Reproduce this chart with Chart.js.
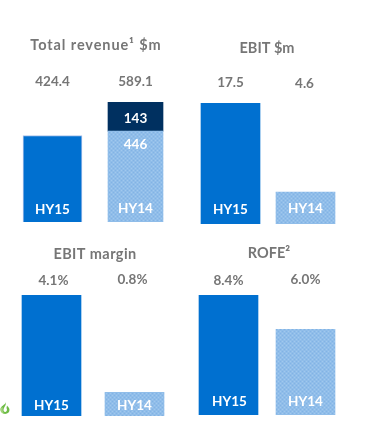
<!DOCTYPE html>
<html>
<head>
<meta charset="utf-8">
<title>Half year results</title>
<script src="https://cdn.jsdelivr.net/npm/chart.js@4"></script>
<style>
  html, body { margin: 0; padding: 0; background: #fff; width: 373px; height: 445px; overflow: hidden; }
  canvas { position: absolute; }
  #flame { position: absolute; left: 0; top: 402px; }
</style>
</head>
<body>
<svg id="flame" width="10" height="12" viewBox="0 0 10 12">
  <path d="M5.5 0 C6 2 2.5 3 1 5.5 C-0.5 8.5 1.5 12 5 12 C8.5 12 10 9.5 9.3 6.8 C8.8 5 7.5 4.5 7 3.5 L6.5 6 C7.5 8 6.8 10 5.2 10 C3.5 10 3 8 4 6 C5 4 6.5 2.5 5.5 0 Z" fill="#6dbb45"/>
  <path d="M1 5.5 C-0.5 8.5 1.5 12 5 12 C3 11 2 8.5 3 5.5 Z" fill="#a5d67c"/>
</svg>
<script>
// values
const categories = ['HY15', 'HY14'];
const revenueHy15 = [424.4, null];
const revenueHy14Base = [null, 446];
const revenueHy14Top = [null, 143];
const revenueTotals = ['424.4', '589.1'];
const ebitValues = [17.5, 4.6];
const ebitLabels = ['17.5', '4.6'];
const marginValues = [4.1, 0.8];
const marginLabels = ['4.1%', '0.8%'];
const rofeValues = [8.4, 6.0];
const rofeLabels = ['8.4%', '6.0%'];

const BLUE = '#0070d0';
const NAVY = '#003060';
const GREY = '#767676';
const FONT = 'Lato, "Noto Sans", sans-serif';

// dotted light blue fill used on the HY14 bars
function makeHatch() {
  const tile = document.createElement('canvas');
  tile.width = 4;
  tile.height = 4;
  const c = tile.getContext('2d');
  c.fillStyle = '#90bde9';
  c.fillRect(0, 0, 4, 4);
  c.fillStyle = '#82b3e5';
  c.fillRect(0, 0, 1, 1);
  c.fillRect(2, 2, 1, 1);
  c.fillStyle = '#a0c8ee';
  c.fillRect(2, 0, 1, 1);
  c.fillRect(0, 2, 1, 1);
  return c.createPattern(tile, 'repeat');
}
const hatch = makeHatch();

// draws titles, value labels and the labels inside the bars
const panelText = {
  id: 'panelText',
  afterDatasetsDraw(chart, args, opts) {
    const ctx = chart.ctx;
    const rect = chart.canvas.getBoundingClientRect();
    const put = (text, x, y, font, color) => {
      ctx.font = font;
      ctx.fillStyle = color;
      ctx.fillText(text, x, y);
    };
    ctx.save();
    ctx.textAlign = 'center';
    ctx.textBaseline = 'middle';
    ctx.letterSpacing = opts.titleSpacing || '0px';
    put(opts.title, opts.titleX - rect.left, opts.titleY - rect.top, 'bold 14.5px ' + FONT, GREY);
    ctx.letterSpacing = '0px';
    const x = chart.scales.x;
    categories.forEach((name, i) => {
      const cx = x.getPixelForValue(i);
      put(opts.values[i], cx + opts.valueDx[i], opts.valueY[i] - rect.top, 'bold 13.5px ' + FONT, GREY);
      put(name, cx + opts.tagDx[i], opts.tagY[i] - rect.top, 'bold 13.5px ' + FONT, '#fff');
    });
    (opts.inner || []).forEach(t => {
      put(t.text, x.getPixelForValue(t.index), t.y - rect.top, 'bold 13.5px ' + FONT, '#fff');
    });
    ctx.restore();
  }
};

function addPanel(box, datasets, maxValue, text) {
  const canvas = document.createElement('canvas');
  canvas.width = box.width;
  canvas.height = box.height;
  canvas.style.left = box.left + 'px';
  canvas.style.top = box.top + 'px';
  document.body.appendChild(canvas);
  return new Chart(canvas.getContext('2d'), {
    type: 'bar',
    data: { labels: categories, datasets: datasets },
    options: {
      responsive: false,
      animation: false,
      layout: { padding: { top: box.padTop, left: 0, right: 0, bottom: 0 } },
      plugins: { legend: { display: false }, tooltip: { enabled: false }, panelText: text },
      scales: {
        x: { display: false, stacked: true },
        y: { display: false, stacked: true, min: 0, max: maxValue }
      }
    },
    plugins: [panelText]
  });
}

function twoBars(values) {
  return [{
    data: values,
    barThickness: 59,
    backgroundColor: [BLUE, hatch]
  }];
}

addPanel({ left: 11, top: 30, width: 166, height: 192, padTop: 72 }, [
  { data: revenueHy15, barThickness: 59, backgroundColor: BLUE, borderColor: '#a9c1ea', borderWidth: 1 },
  { data: revenueHy14Base, barThickness: 55, backgroundColor: hatch },
  { data: revenueHy14Top, barThickness: 55, backgroundColor: NAVY }
], 589, {
  title: 'Total revenue¹ $m', titleX: 96, titleY: 45, titleSpacing: '0.9px',
  values: revenueTotals, valueDx: [0, 0], valueY: [82, 82],
  tagDx: [0, 0], tagY: [210, 209],
  inner: [{ text: '143', index: 1, y: 119 }, { text: '446', index: 1, y: 145 }]
});

addPanel({ left: 193, top: 30, width: 150, height: 194, padTop: 73 }, twoBars(ebitValues), 17.5, {
  title: 'EBIT $m', titleX: 267, titleY: 48,
  values: ebitLabels, valueDx: [0, -1], valueY: [83, 84],
  tagDx: [0, 0], tagY: [210, 209]
});

addPanel({ left: 10, top: 235, width: 166, height: 181, padTop: 60 }, twoBars(marginValues), 4.1, {
  title: 'EBIT margin', titleX: 95, titleY: 254, titleSpacing: '0.4px',
  values: marginLabels, valueDx: [2, -2], valueY: [281, 280],
  tagDx: [0, 0], tagY: [406, 406]
});

addPanel({ left: 190, top: 235, width: 154, height: 180, padTop: 60 }, twoBars(rofeValues), 8.4, {
  title: 'ROFE²', titleX: 269, titleY: 253,
  values: rofeLabels, valueDx: [0, 0], valueY: [281, 280],
  tagDx: [1, 0], tagY: [402, 402]
});
</script>
</body>
</html>
